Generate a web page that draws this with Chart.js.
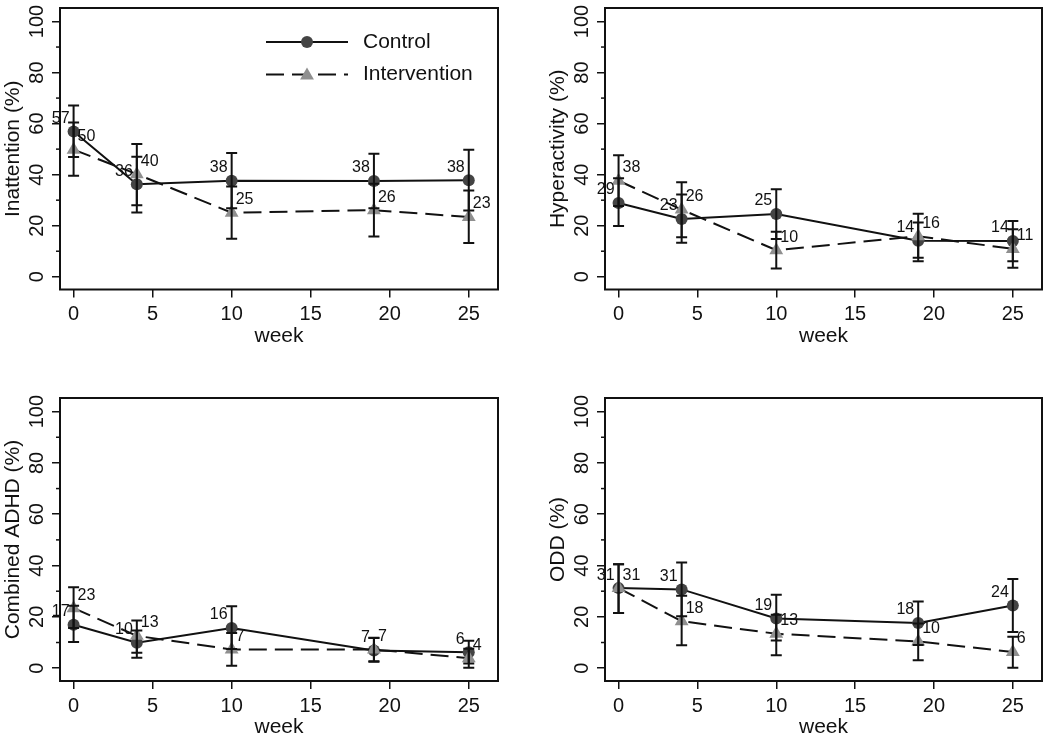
<!DOCTYPE html>
<html><head><meta charset="utf-8">
<script src="https://cdn.jsdelivr.net/npm/chart.js@4.4.0/dist/chart.umd.min.js"></script>
<style>
html,body{margin:0;padding:0;background:#fff;overflow:hidden;width:1050px;height:735px;}
canvas{position:absolute;}
</style></head><body>
<canvas id="c1" width="525" height="380" style="left:0;top:0"></canvas>
<canvas id="c2" width="525" height="380" style="left:525px;top:0"></canvas>
<canvas id="c3" width="525" height="380" style="left:0;top:390px"></canvas>
<canvas id="c4" width="525" height="380" style="left:525px;top:390px"></canvas>
<script>
// ---- data ----
const weeks = [0, 4, 10, 19, 25];
const xTicks = [0, 5, 10, 15, 20, 25];
const yTicks = [0, 20, 40, 60, 80, 100];
const yMinorTicks = [10, 30, 50, 70, 90];
const seriesNames = ['Control', 'Intervention'];
const xTitle = 'week';

const inattTitle = 'Inattention (%)';
const inattControl   = [56.9, 36.2, 37.6, 37.5, 37.8];
const inattControlLo = [46.9, 25.2, 26.8, 26.8, 26.0];
const inattControlHi = [67.1, 47.0, 48.5, 48.2, 49.8];
const inattInterv    = [49.8, 40.2, 25.1, 26.1, 23.4];
const inattIntervLo  = [39.6, 28.0, 14.9, 15.8, 13.2];
const inattIntervHi  = [60.4, 52.0, 35.4, 36.4, 33.8];

const hyperTitle = 'Hyperactivity (%)';
const hyperControl   = [28.9, 22.6, 24.6, 14.1, 14.0];
const hyperControlLo = [19.9, 13.3, 14.8, 6.1, 6.1];
const hyperControlHi = [38.6, 32.2, 34.3, 21.3, 21.8];
const hyperInterv    = [37.6, 26.3, 10.4, 15.9, 10.9];
const hyperIntervLo  = [27.7, 15.5, 3.2, 7.4, 3.5];
const hyperIntervHi  = [47.6, 37.0, 17.6, 24.7, 18.6];

const combTitle = 'Combined ADHD (%)';
const combControl   = [16.9, 9.9, 15.7, 6.9, 6.2];
const combControlLo = [10.2, 4.1, 7.5, 2.5, 1.8];
const combControlHi = [24.3, 14.7, 24.1, 11.8, 10.7];
const combInterv    = [23.4, 12.6, 7.3, 7.3, 3.9];
const combIntervLo  = [15.7, 6.0, 0.9, 2.7, 0.2];
const combIntervHi  = [31.5, 18.6, 13.7, 11.9, 7.6];

const oddTitle = 'ODD (%)';
const oddControl   = [31.2, 30.7, 19.4, 17.6, 24.4];
const oddControlLo = [21.5, 20.2, 10.8, 9.0, 14.1];
const oddControlHi = [40.5, 41.2, 28.6, 26.0, 34.8];
const oddInterv    = [31.2, 18.3, 13.4, 10.4, 6.3];
const oddIntervLo  = [21.5, 8.9, 5.0, 3.1, 0.2];
const oddIntervHi  = [40.5, 28.2, 20.8, 17.4, 12.2];

const xMin = -0.86, xMax = 26.85;
const yMin = -5, yMax = 105.3;

// ---- style ----
const FONT = '"Liberation Sans", Arial, Helvetica, sans-serif';
const INK = '#111';
const CTRL_COLOR = '#444444';
const INT_COLOR = '#8f8f8f';
const CIRCLE_R = 6, TRI_R = 8;
const W = 525, H = 380;

function pts(vals) { return weeks.map((w, i) => ({x: w, y: vals[i]})); }

function drawTri(ctx, x, y, r, color) {
  ctx.fillStyle = color;
  ctx.beginPath();
  for (let k = 0; k < 3; k++) {
    const a = k * 2 * Math.PI / 3;
    const px = x + Math.sin(a) * r, py = y - Math.cos(a) * r;
    if (k === 0) ctx.moveTo(px, py); else ctx.lineTo(px, py);
  }
  ctx.closePath(); ctx.fill();
}

function makePanel(p) {
  const box = p.box;
  const overlay = {
    id: 'overlay',
    afterDatasetsDraw(chart) {
      const ctx = chart.ctx, xs = chart.scales.x, ys = chart.scales.y;
      ctx.save();
      ctx.strokeStyle = INK; ctx.lineWidth = 2; ctx.setLineDash([]);
      const sets = [[p.cLo, p.cHi], [p.iLo, p.iHi]];
      sets.forEach(([lo, hi]) => weeks.forEach((w, i) => {
        const x = xs.getPixelForValue(w), y1 = ys.getPixelForValue(lo[i]), y2 = ys.getPixelForValue(hi[i]);
        ctx.beginPath();
        ctx.moveTo(x, y1); ctx.lineTo(x, y2);
        ctx.moveTo(x - 5.5, y1); ctx.lineTo(x + 5.5, y1);
        ctx.moveTo(x - 5.5, y2); ctx.lineTo(x + 5.5, y2);
        ctx.stroke();
      }));
      ctx.fillStyle = INK; ctx.font = '16px ' + FONT; ctx.textBaseline = 'middle';
      weeks.forEach((w, i) => {
        const x = xs.getPixelForValue(w);
        ctx.textAlign = 'right';
        ctx.fillText(String(Math.round(p.control[i])), x - 4, ys.getPixelForValue(p.control[i]) - 13);
        ctx.textAlign = 'left';
        ctx.fillText(String(Math.round(p.interv[i])), x + 4, ys.getPixelForValue(p.interv[i]) - 13);
      });
      ctx.restore();
    },
    afterDraw(chart) {
      const ctx = chart.ctx, a = chart.chartArea, ys = chart.scales.y;
      ctx.save();
      ctx.strokeStyle = INK; ctx.lineWidth = 2;
      ctx.strokeRect(a.left, a.top, a.right - a.left, a.bottom - a.top);
      ctx.lineWidth = 1.5;
      yMinorTicks.forEach(v => {
        const y = ys.getPixelForValue(v);
        ctx.beginPath(); ctx.moveTo(a.left - 4, y); ctx.lineTo(a.left, y); ctx.stroke();
      });
      ctx.fillStyle = INK; ctx.font = '20px ' + FONT;
      ctx.textAlign = 'center'; ctx.textBaseline = 'alphabetic';
      yTicks.forEach(v => {
        const y = ys.getPixelForValue(v);
        ctx.save();
        ctx.translate(a.left - 17.3, y);
        ctx.rotate(-Math.PI / 2);
        ctx.fillText(String(v), 0, 0);
        ctx.restore();
      });
      if (p.legend) {
        const lx0 = a.left + 206, lx1 = a.left + 288, mx = a.left + 247, tx = a.left + 303;
        const ly0 = a.top + 34, ly1 = a.top + 66.5;
        ctx.strokeStyle = INK; ctx.lineWidth = 2;
        ctx.beginPath(); ctx.moveTo(lx0, ly0); ctx.lineTo(lx1, ly0); ctx.stroke();
        ctx.fillStyle = CTRL_COLOR;
        ctx.beginPath(); ctx.arc(mx, ly0, CIRCLE_R, 0, 2 * Math.PI); ctx.fill();
        ctx.setLineDash([18, 8]);
        ctx.beginPath(); ctx.moveTo(lx0, ly1); ctx.lineTo(lx1, ly1); ctx.stroke();
        ctx.setLineDash([]);
        drawTri(ctx, mx, ly1 + 1, TRI_R, INT_COLOR);
        ctx.fillStyle = INK; ctx.font = '21px ' + FONT;
        ctx.textAlign = 'left'; ctx.textBaseline = 'middle';
        ctx.fillText(seriesNames[0], tx, ly0);
        ctx.fillText(seriesNames[1], tx, ly1);
      }
      ctx.restore();
    }
  };

  const xAxisH = H - box.B;
  new Chart(document.getElementById(p.id), {
    type: 'scatter',
    data: {
      datasets: [
        { label: seriesNames[1], data: pts(p.interv), showLine: true,
          borderColor: INK, borderWidth: 2, borderDash: [18, 8],
          pointStyle: 'triangle', pointRadius: TRI_R, pointBackgroundColor: INT_COLOR, pointBorderWidth: 0 },
        { label: seriesNames[0], data: pts(p.control), showLine: true,
          borderColor: INK, borderWidth: 2,
          pointStyle: 'circle', pointRadius: CIRCLE_R, pointBackgroundColor: CTRL_COLOR, pointBorderWidth: 0 }
      ]
    },
    options: {
      responsive: false, animation: false, devicePixelRatio: 1, events: [],
      layout: { padding: { left: box.L - 60, top: box.T, right: W - box.R, bottom: 0 } },
      plugins: { legend: { display: false }, tooltip: { enabled: false } },
      scales: {
        x: {
          type: 'linear', min: xMin, max: xMax, position: 'bottom',
          afterBuildTicks: s => { s.ticks = xTicks.map(v => ({value: v})); },
          afterFit: s => { s.height = xAxisH; },
          ticks: { color: INK, font: { family: FONT, size: 20 }, padding: 5, autoSkip: false, maxRotation: 0, minRotation: 0 },
          grid: { drawOnChartArea: false, drawTicks: true, tickLength: 8, color: INK, lineWidth: 1.5 },
          border: { display: false },
          title: { display: true, text: xTitle, color: INK, font: { family: FONT, size: 21 },
                   padding: { top: 0, bottom: xAxisH - 46.5 - 12.6 } }
        },
        y: {
          type: 'linear', min: yMin, max: yMax, position: 'left',
          afterBuildTicks: s => { s.ticks = yTicks.map(v => ({value: v})); },
          afterFit: s => { s.width = 60; },
          ticks: { display: false },
          grid: { drawOnChartArea: false, drawTicks: true, tickLength: 8, color: INK, lineWidth: 1.5 },
          border: { display: false },
          title: { display: true, text: p.title, color: INK, font: { family: FONT, size: 21 },
                   padding: { top: 0.9, bottom: 0 } }
        }
      }
    },
    plugins: [overlay]
  });
}

makePanel({ id: 'c1', title: inattTitle, legend: true, box: {L: 60, T: 4, R: 498, B: 289.5},
  control: inattControl, cLo: inattControlLo, cHi: inattControlHi,
  interv: inattInterv, iLo: inattIntervLo, iHi: inattIntervHi });
makePanel({ id: 'c2', title: hyperTitle, legend: false, box: {L: 80, T: 4, R: 517.3, B: 289.5},
  control: hyperControl, cLo: hyperControlLo, cHi: hyperControlHi,
  interv: hyperInterv, iLo: hyperIntervLo, iHi: hyperIntervHi });
makePanel({ id: 'c3', title: combTitle, legend: false, box: {L: 60, T: 4, R: 498, B: 291},
  control: combControl, cLo: combControlLo, cHi: combControlHi,
  interv: combInterv, iLo: combIntervLo, iHi: combIntervHi });
makePanel({ id: 'c4', title: oddTitle, legend: false, box: {L: 80, T: 4, R: 517.3, B: 291},
  control: oddControl, cLo: oddControlLo, cHi: oddControlHi,
  interv: oddInterv, iLo: oddIntervLo, iHi: oddIntervHi });
</script>
</body></html>
